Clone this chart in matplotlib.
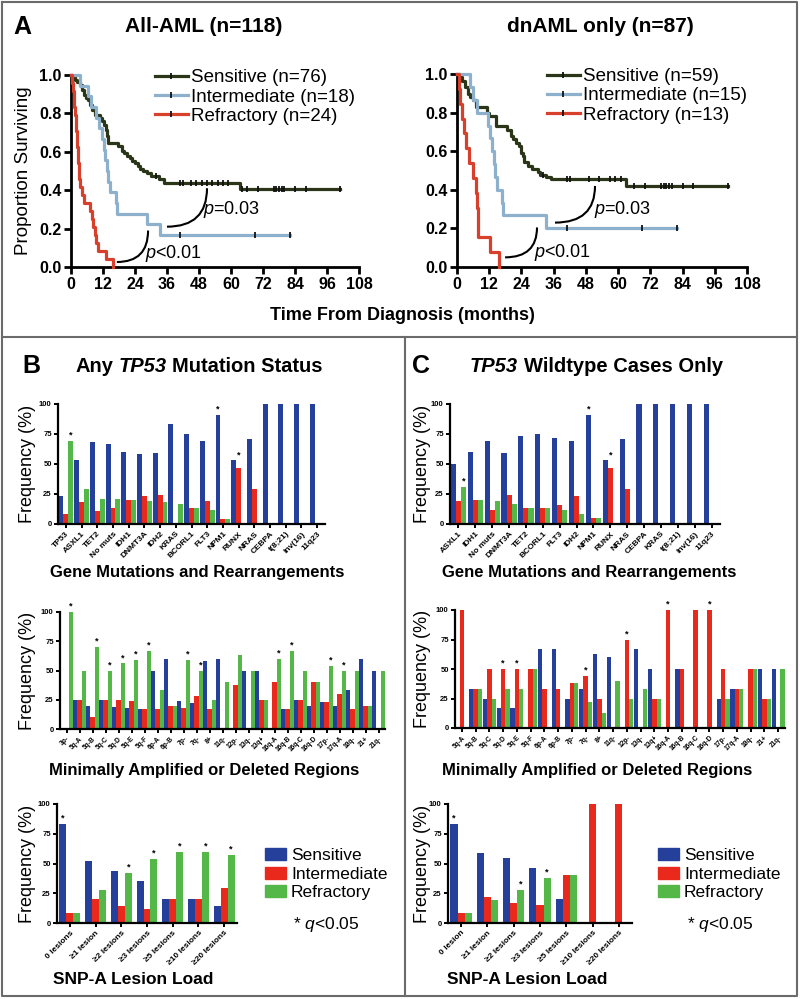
import numpy as np
import matplotlib
matplotlib.use('Agg')
import matplotlib.pyplot as plt
from matplotlib.lines import Line2D
from matplotlib.patches import Patch, PathPatch
from matplotlib.path import Path

plt.rcParams['font.family'] = ['Liberation Sans', 'DejaVu Sans']
plt.rcParams['mathtext.fontset'] = 'custom'
plt.rcParams['mathtext.rm'] = 'Liberation Sans'
plt.rcParams['mathtext.it'] = 'Liberation Sans:italic'
plt.rcParams['mathtext.bf'] = 'Liberation Sans:bold'

# ---- Kaplan-Meier data (step times in months, survival) ----
all_sens_t = [0, 0.8, 1.6, 2.4, 3.2, 4.0, 4.8, 5.5, 6.2, 7.0, 8.0, 9.0, 11.0, 11.7, 12.3, 13.0, 13.5, 14.0,
              17.5, 19.0, 20.0, 21.0, 22.0, 23.0, 24.0, 25.0, 26.0, 27.0, 28.5, 30.0, 33.0, 35.0, 63.4, 101]
all_sens_s = [1, .987, .974, .961, .947, .921, .895, .882, .868, .842, .816, .79, .776, .763, .737, .711, .684, .645,
              .632, .605, .592, .579, .566, .553, .540, .526, .513, .500, .487, .474, .460, .438, .405, .405]
all_sens_cens = [32, 41, 42, 45, 47, 49, 51, 53, 55, 57, 59, 64, 66, 70, 76, 77, 78, 79, 80, 84, 88, 101]

all_int_t = [0, 3.4, 6.5, 7.5, 9.5, 10.5, 11.5, 12.2, 12.8, 13.4, 14.0, 14.6, 16.75, 17.1, 28.4, 33.4, 82]
all_int_s = [1, .944, .889, .833, .778, .722, .667, .611, .556, .5, .444, .389, .333, .278, .222, .167, .167]
all_int_cens = [41, 69, 82]

all_ref_t = [0, 0.4, 0.7, 1.0, 1.3, 1.5, 1.7, 1.9, 2.1, 2.3, 2.5, 2.7, 2.9, 3.1, 3.4, 4.0, 5.0, 7.0, 7.8,
             8.4, 9.0, 9.4, 10.0, 13.2, 15.9]
all_ref_s = [1, .958, .917, .875, .833, .792, .75, .708, .667, .625, .583, .542, .5, .458, .417, .375, .333, .292,
             .25, .208, .167, .125, .083, .042, 0]

dn_sens_t = [0, 1, 2, 3, 4, 5, 6, 7, 11, 12, 14.5, 18.5, 20, 21, 22, 23, 24, 24.5, 25, 26.5, 28, 30, 31, 33, 35, 63, 101]
dn_sens_s = [1, .983, .966, .932, .898, .881, .864, .83, .797, .78, .729, .712, .678, .661, .644, .627, .593, .576,
             .542, .525, .508, .492, .475, .466, .458, .42, .42]
dn_sens_cens = [32, 41, 42, 49, 53, 57, 59, 61, 66, 70, 76, 77, 78, 79, 80, 84, 88, 101]

dn_int_t = [0, 5, 6, 7.3, 11.4, 12.2, 13, 13.6, 14.2, 15, 16.7, 17.2, 33, 82]
dn_int_s = [1, .933, .867, .8, .733, .667, .6, .533, .467, .4, .333, .267, .2, .2]
dn_int_cens = [41, 69, 82]

dn_ref_t = [0, 0.6, 1.2, 2.0, 2.5, 3.5, 4.5, 6.0, 7.0, 7.5, 8.0, 12.2, 15.5]
dn_ref_s = [1, .923, .846, .769, .692, .615, .538, .462, .385, .308, .154, .077, 0]

km_ticks_x = [0, 12, 24, 36, 48, 60, 72, 84, 96, 108]
km_ticks_y = [0.0, 0.2, 0.4, 0.6, 0.8, 1.0]

# ---- bar chart data (%) ----
series_names = ['Sensitive', 'Intermediate', 'Refractory']

b_genes = ['TP53', 'ASXL1', 'TET2', 'No muts', 'IDH1', 'DNMT3A', 'IDH2', 'KRAS', 'BCORL1', 'FLT3', 'NPM1',
           'RUNX', 'NRAS', 'CEBPA', 't(8;21)', 'inv(16)', '11q23']
b_gene_sens = [23, 53, 68, 67, 60, 58, 59, 83, 75, 69, 91, 53, 71, 100, 100, 100, 100]
b_gene_int = [8, 18, 11, 13, 20, 23, 24, 0, 13, 19, 4, 47, 29, 0, 0, 0, 0]
b_gene_ref = [69, 29, 21, 21, 20, 19, 18, 17, 13, 12, 4, 0, 0, 0, 0, 0, 0]
b_gene_stars = [('TP53', 2), ('NPM1', 0), ('RUNX', 1)]

c_genes = ['ASXL1', 'IDH1', 'No muts', 'DNMT3A', 'TET2', 'BCORL1', 'FLT3', 'IDH2', 'NPM1', 'RUNX', 'NRAS',
           'CEBPA', 'KRAS', 't(8;21)', 'inv(16)', '11q23']
c_gene_sens = [50, 60, 69, 59, 73, 75, 72, 69, 91, 53, 71, 100, 100, 100, 100, 100]
c_gene_int = [19, 20, 12, 24, 13, 13, 16, 23, 5, 47, 29, 0, 0, 0, 0, 0]
c_gene_ref = [31, 20, 19, 17, 13, 13, 12, 8, 5, 0, 0, 0, 0, 0, 0, 0]
c_gene_stars = [('ASXL1', 2), ('NPM1', 0), ('RUNX', 1)]

b_regions = ['3p-', '5q-A', '5q-B', '5q-C', '5q-D', '5q-E', '5q-F', '6p-A', '6p-B', '7p-', '7q-', '8+', '11q-',
             '12p-', '13q-', '13q+', '16q-A', '16q-B', '16q-C', '16q-D', '17p-', '17q-A', '18q-', '21+', '21q-']
b_reg_sens = [0, 25, 20, 25, 19, 18, 17, 50, 60, 24, 22, 58, 60, 0, 50, 50, 0, 17, 25, 20, 23, 20, 33, 60, 50]
b_reg_int = [0, 25, 10, 25, 25, 24, 17, 17, 20, 18, 28, 17, 0, 38, 0, 25, 40, 17, 25, 40, 23, 30, 17, 20, 0]
b_reg_ref = [100, 50, 70, 50, 56, 59, 67, 33, 20, 59, 50, 25, 40, 63, 50, 25, 60, 67, 50, 40, 54, 50, 50, 20, 50]
b_reg_stars = [('3p-', 2), ('5q-B', 2), ('5q-C', 2), ('5q-D', 2), ('5q-E', 2), ('5q-F', 2), ('7p-', 2),
               ('7q-', 2), ('16q-A', 2), ('16q-B', 2), ('17p-', 2), ('17q-A', 2)]

c_regions = b_regions[1:]
c_reg_sens = [0, 33, 25, 17, 17, 0, 67, 67, 25, 33, 63, 60, 0, 67, 50, 0, 50, 0, 0, 25, 33, 0, 50, 50]
c_reg_int = [100, 33, 50, 50, 50, 50, 33, 33, 38, 44, 25, 0, 75, 0, 25, 100, 50, 100, 100, 50, 33, 50, 25, 0]
c_reg_ref = [0, 33, 25, 33, 33, 50, 0, 0, 38, 22, 13, 40, 25, 33, 25, 0, 0, 0, 0, 25, 33, 50, 25, 50]
c_reg_stars = [('5q-D', 1), ('5q-E', 1), ('7q-', 1), ('12p-', 1), ('16q-A', 1), ('16q-D', 1)]

b_lesions = ['0 lesions', '≥1 lesion', '≥2 lesions', '≥3 lesions', '≥5 lesions', '≥10 lesions', '≥20 lesions']
b_les_sens = [83, 52, 44, 35, 20, 20, 14]
b_les_int = [8, 20, 14, 12, 20, 20, 29]
b_les_ref = [8, 28, 42, 54, 60, 60, 57]
b_les_stars = [('0 lesions', 0), ('≥2 lesions', 2), ('≥3 lesions', 2), ('≥5 lesions', 2),
               ('≥10 lesions', 2), ('≥20 lesions', 2)]

c_lesions = ['0 lesion', '≥1 lesion', '≥2 lesions', '≥3 lesions', '≥5 lesions', '≥10 lesions', '≥20 lesions']
c_les_sens = [83, 59, 55, 46, 20, 0, 0]
c_les_int = [8, 22, 17, 15, 40, 100, 100]
c_les_ref = [8, 19, 28, 38, 40, 0, 0]
c_les_stars = [('0 lesion', 0), ('≥2 lesions', 2), ('≥3 lesions', 2)]

km_colors = ['#2b3518', '#8db1cc', '#d9402b']
bar_colors = ['#24409a', '#e8291c', '#53b848']

W, H = 800, 999
fig = plt.figure(figsize=(W / 100, H / 100), dpi=100)
bg = fig.add_axes([0, 0, 1, 1], zorder=-1)
bg.set_xlim(0, W)
bg.set_ylim(H, 0)
bg.axis('off')


def px_axes(x0, y0, x1, y1):
    return fig.add_axes([x0 / W, 1 - y1 / H, (x1 - x0) / W, (y1 - y0) / H])


def style_spines(ax, lw):
    for s in ['top', 'right']:
        ax.spines[s].set_visible(False)
    for s in ['left', 'bottom']:
        ax.spines[s].set_linewidth(lw)


def ylabel_at(ax, text, size, x_center):
    # y label centred on a given x pixel (the anchor is the right edge of the rotated text)
    ax.set_ylabel(text, fontsize=size)
    pos = ax.get_position()
    ax.yaxis.set_label_coords((x_center + size * 0.62 + 5 - pos.x0 * W) / (pos.width * W), 0.5)


def arc(ax, p0, p1):
    path = Path([p0, (p1[0], p0[1]), p1], [Path.MOVETO, Path.CURVE3, Path.CURVE3])
    ax.add_patch(PathPatch(path, fill=False, lw=1.5, color='k', clip_on=False))


def km_panel(ax, curves, labels, leg_xy):
    for (t, s, cens), c in zip(curves, km_colors):
        ax.step(t, s, where='post', color=c, lw=2.3, clip_on=False, zorder=3)
        if cens:
            idx = np.searchsorted(t, cens, side='right') - 1
            ax.plot(cens, np.array(s)[idx], ls='none', marker='|', ms=4, mew=1.3, color='#111', zorder=4,
                    clip_on=False)
    ax.set_xlim(0, 108)
    ax.set_ylim(0, 1)
    ax.set_xticks(km_ticks_x)
    ax.set_yticks(km_ticks_y)
    ax.set_yticklabels([f'{v:.1f}' for v in km_ticks_y])
    style_spines(ax, 2)
    ax.tick_params(width=2, length=5, labelsize=11.5, pad=2)
    for lab in ax.get_xticklabels() + ax.get_yticklabels():
        lab.set_fontweight('bold')
    handles = [Line2D([0], [0], color=c, lw=2.3, marker='|', ms=4, mew=1.3, mec='#111') for c in km_colors]
    ax.legend(handles, labels, loc='upper left', bbox_to_anchor=(leg_xy[0] / W, 1 - leg_xy[1] / H),
              bbox_transform=fig.transFigure, frameon=False, fontsize=13.5, handlelength=1.75,
              handletextpad=0.15, labelspacing=0.12, borderpad=0, borderaxespad=0)


def bar_panel(ax, cats, sens, inter, refr, stars, w, label_size, label_x):
    x = np.arange(len(cats))
    vals = [sens, inter, refr]
    for k, (v, c) in enumerate(zip(vals, bar_colors)):
        ax.bar(x + (k - 1) * w, v, w, color=c, linewidth=0)
    for name, k in stars:
        i = cats.index(name)
        group = [vals[j][i] for j in range(3) if abs(j - k) <= 1]
        ax.text(i + (k - 1) * w, max(group) + 1, '*', ha='center', va='bottom', fontsize=6.5,
                fontweight='bold', clip_on=False)
    ax.set_xlim(-0.5, len(cats) - 0.5)
    ax.set_ylim(0, 100)
    ax.set_yticks([0, 25, 50, 75, 100])
    ax.set_xticks(x)
    ax.set_xticklabels(cats, rotation=45, ha='right', rotation_mode='anchor', fontsize=label_size,
                       fontweight='bold')
    for lab in ax.get_yticklabels():
        lab.set_fontweight('bold')
    style_spines(ax, 1.6)
    ax.tick_params(axis='both', width=1.4, length=3, pad=1.5)
    ax.tick_params(axis='y', labelsize=5.5)
    ylabel_at(ax, 'Frequency (%)', 13, label_x)


# ---- panel A ----
ax1 = px_axes(71, 75, 359, 267)
km_panel(ax1, [(all_sens_t, all_sens_s, all_sens_cens), (all_int_t, all_int_s, all_int_cens),
               (all_ref_t, all_ref_s, [])],
         ['Sensitive (n=76)', 'Intermediate (n=18)', 'Refractory (n=24)'], (155, 69))
ylabel_at(ax1, 'Proportion Surviving', 13.5, 19)
arc(ax1, (36, 0.21), (51, 0.41))
arc(ax1, (17.2, 0.026), (28.9, 0.19))
ax1.text(49.6, 0.297, '$p$=0.03', fontsize=13, va='center', ha='left')
ax1.text(27.8, 0.07, '$p$<0.01', fontsize=13, va='center', ha='left')

ax2 = px_axes(457, 74, 747, 267)
km_panel(ax2, [(dn_sens_t, dn_sens_s, dn_sens_cens), (dn_int_t, dn_int_s, dn_int_cens),
               (dn_ref_t, dn_ref_s, [])],
         ['Sensitive (n=59)', 'Intermediate (n=15)', 'Refractory (n=13)'], (547, 68))
arc(ax2, (36.5, 0.23), (51.4, 0.42))
arc(ax2, (17.9, 0.05), (29.8, 0.205))
ax2.text(50.9, 0.30, '$p$=0.03', fontsize=13, va='center', ha='left')
ax2.text(28.5, 0.077, '$p$<0.01', fontsize=13, va='center', ha='left')

bg.text(13, 27, 'A', fontsize=18, fontweight='bold', va='center', ha='left')
bg.text(204, 27, 'All-AML (n=118)', fontsize=15, fontweight='bold', va='center', ha='center')
bg.text(600, 27, 'dnAML only (n=87)', fontsize=15, fontweight='bold', va='center', ha='center')
bg.text(402, 315, 'Time From Diagnosis (months)', fontsize=13, fontweight='bold', va='center', ha='center')

# ---- panels B and C ----
axb1 = px_axes(58, 404, 325, 524)
bar_panel(axb1, b_genes, b_gene_sens, b_gene_int, b_gene_ref, b_gene_stars, 0.31, 6, 23)
axc1 = px_axes(450, 404, 720, 524)
bar_panel(axc1, c_genes, c_gene_sens, c_gene_int, c_gene_ref, c_gene_stars, 0.3, 6, 418)
axb2 = px_axes(60, 612, 385, 729)
bar_panel(axb2, b_regions, b_reg_sens, b_reg_int, b_reg_ref, b_reg_stars, 0.32, 4.8, 23)
axc2 = px_axes(455, 610, 785, 728)
bar_panel(axc2, c_regions, c_reg_sens, c_reg_int, c_reg_ref, c_reg_stars, 0.32, 4.8, 418)
axb3 = px_axes(57, 804, 237, 923)
bar_panel(axb3, b_lesions, b_les_sens, b_les_int, b_les_ref, b_les_stars, 0.27, 6, 23)
axc3 = px_axes(448, 804, 632, 923)
bar_panel(axc3, c_lesions, c_les_sens, c_les_int, c_les_ref, c_les_stars, 0.27, 6, 418)

for lx, cx in [(265, 293), (658, 687)]:
    handles = [Patch(color=c) for c in bar_colors]
    fig.legend(handles, series_names, loc='upper left', bbox_to_anchor=(lx / W, 1 - 848 / H),
               frameon=False, fontsize=12.5, handlelength=1.2, handleheight=0.7, handletextpad=0.3,
               labelspacing=0.2, borderpad=0, borderaxespad=0)
    bg.text(cx, 925, '* $q$<0.05', fontsize=12.5, va='center', ha='left')

bg.text(22, 366, 'B', fontsize=18, fontweight='bold', va='center', ha='left')
bg.text(412, 366, 'C', fontsize=18, fontweight='bold', va='center', ha='left')
t = bg.text(75, 366, 'Any', fontsize=14.5, fontweight='bold', va='center', ha='left')
t = bg.annotate('TP53', xy=(1, 0), xycoords=t, xytext=(4, 0), textcoords='offset points', fontsize=14.5,
                fontweight='bold', style='italic', va='bottom', ha='left')
bg.annotate('Mutation Status', xy=(1, 0), xycoords=t, xytext=(4, 0), textcoords='offset points',
            fontsize=14.5, fontweight='bold', va='bottom', ha='left')
t = bg.text(470, 366, 'TP53', fontsize=14.5, fontweight='bold', style='italic', va='center', ha='left')
bg.annotate('Wildtype Cases Only', xy=(1, 0), xycoords=t, xytext=(4, 0), textcoords='offset points',
            fontsize=14.5, fontweight='bold', va='bottom', ha='left')

for cx, y, s in [(197, 572, 'Gene Mutations and Rearrangements'), (589, 572, 'Gene Mutations and Rearrangements'),
                 (204, 770, 'Minimally Amplified or Deleted Regions'),
                 (597, 770, 'Minimally Amplified or Deleted Regions')]:
    bg.text(cx, y, s, fontsize=12, fontweight='bold', va='center', ha='center')
bg.text(53, 980, 'SNP-A Lesion Load', fontsize=12.5, fontweight='bold', va='center', ha='left')
bg.text(447, 980, 'SNP-A Lesion Load', fontsize=12.5, fontweight='bold', va='center', ha='left')

# frame
fc = '#6b6b6b'
bg.plot([2, 797, 797, 2, 2], [2, 2, 996, 996, 2], color=fc, lw=1.5)
bg.plot([2, 797], [337, 337], color=fc, lw=1.5)
bg.plot([405, 405], [337, 996], color=fc, lw=1.5)

fig.savefig('out.png', dpi=100)
